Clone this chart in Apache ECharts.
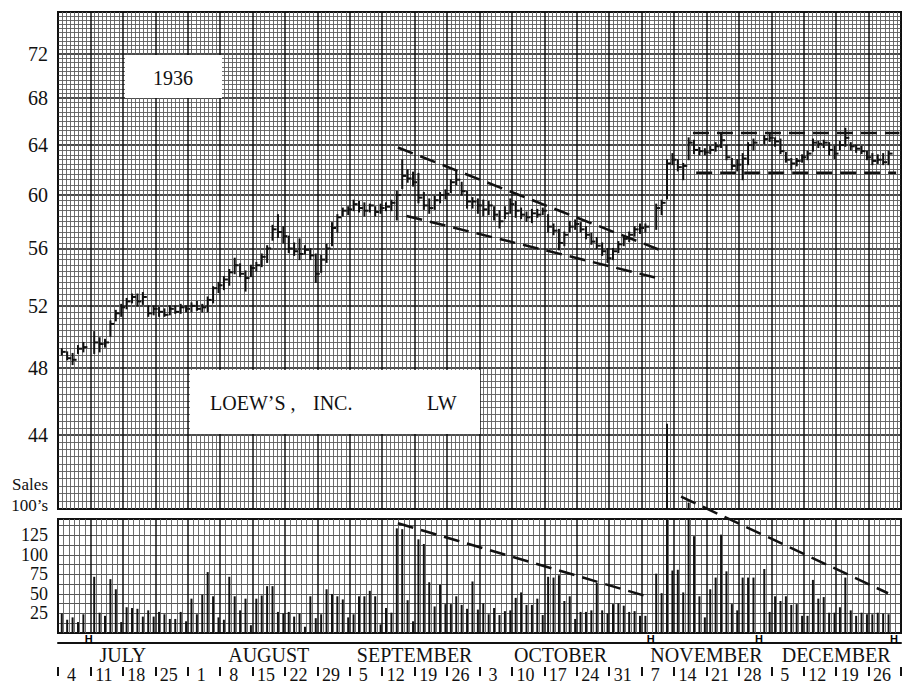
<!DOCTYPE html>
<html><head><meta charset="utf-8">
<script src="https://cdn.jsdelivr.net/npm/echarts@6/dist/echarts.min.js"></script>
<style>html,body{margin:0;padding:0;background:#fff}#c{width:903px;height:685px}</style>
</head><body><div id="c"></div>
<script>
// ---------------- data ----------------
const weekLabels = ['4','11','18','25','1','8','15','22','29','5','12','19','26','3','10','17','24','31','7','14','21','28','5','12','19','26'];
const months = ['JULY','AUGUST','SEPTEMBER','OCTOBER','NOVEMBER','DECEMBER'];
const monthWeeks = [4,5,4,5,4,4];
const priceTicks = [44,48,52,56,60,64,68,72];
const volumeTicks = [25,50,75,100,125];
const holidays = [5,109,129,154];

// daily high / low / close (null = no trading shown), 6 trading days per week from Mon Jun 29 1936
const high = [
49.2,49.0,48.9,49.4,49.6,null, 50.3,49.9,49.8,51.0,51.7,52.1, 52.5,52.8,52.8,52.9,52.0,52.0,
51.9,51.8,52.0,52.0,52.1,52.0, 52.2,52.3,52.1,52.6,53.3,53.6, 54.0,54.5,55.3,54.9,54.4,54.8,
55.0,55.6,56.2,57.7,58.5,57.6, 56.9,56.4,56.7,56.2,56.0,55.6, 55.5,56.3,57.9,58.5,59.0,59.1,
59.6,59.5,59.4,59.3,59.1,59.3, 59.4,59.6,60.3,62.8,62.0,61.8, 61.7,60.2,59.7,59.9,60.2,60.4,
61.2,61.9,61.0,60.3,59.8,59.7, 59.6,59.5,59.1,58.8,59.1,59.7, 59.5,59.0,58.7,58.9,58.9,59.0,
58.5,57.8,57.4,57.2,58.0,58.1, 57.9,57.6,57.1,56.8,56.4,56.0, 56.0,56.5,56.9,57.2,57.6,57.8,
57.8,null,59.3,59.6,62.8,63.3, 62.8,62.5,64.6,64.4,63.8,63.7, 63.9,64.2,65.0,64.0,62.9,62.8,
63.3,64.2,64.5,null,64.8,64.9, 64.6,64.5,63.4,62.9,62.9,63.2, 63.5,64.5,64.3,64.4,64.2,63.9,
64.3,65.4,64.2,64.0,63.9,63.5, 63.3,63.2,63.3,63.5,null,null];
const low = [
48.8,48.5,48.2,48.9,49.0,null, 48.9,49.0,49.3,50.0,51.0,51.3, 51.8,52.2,52.0,52.1,51.3,51.4,
51.3,51.3,51.4,51.5,51.5,51.6, 51.6,51.7,51.6,51.6,52.2,52.9, 53.1,53.4,54.2,54.0,53.0,54.0,
54.4,54.7,55.0,56.6,56.8,56.4, 55.7,55.5,55.2,55.6,55.2,53.6, 54.3,55.0,56.2,57.2,58.4,58.5,
58.8,58.7,58.4,58.7,58.4,58.6, 58.8,58.8,58.1,60.5,61.0,60.7, 59.4,58.9,58.6,58.9,59.4,59.7,
60.2,60.8,60.0,59.0,59.0,58.6, 58.4,58.5,58.1,57.5,58.2,58.6, 58.3,58.2,58.0,57.9,58.3,58.5,
57.2,57.0,55.9,56.2,57.2,57.4, 57.2,56.7,56.3,56.0,55.5,55.0, 55.2,55.7,56.2,56.5,56.9,57.1,
57.2,null,57.4,58.5,59.7,62.4, 61.9,61.2,62.8,63.3,63.2,63.2, 63.3,63.5,63.8,62.8,62.0,61.9,
61.2,62.4,63.6,null,64.1,64.3, 63.9,63.3,62.6,62.0,62.3,62.6, 62.8,63.5,63.8,63.8,63.2,62.9,
63.6,63.9,63.6,63.4,63.3,62.8, 62.4,62.5,62.4,62.4,null,null];
const close = [
49.0,48.6,48.5,49.2,49.3,null, 49.6,49.5,49.6,50.8,51.5,51.9, 52.3,52.6,52.3,52.6,51.5,51.8,
51.6,51.4,51.8,51.6,51.9,51.8, 52.0,51.8,51.9,52.4,53.2,53.4, 53.8,54.3,54.8,54.2,53.9,54.6,
54.8,55.4,56.0,57.4,57.2,56.9, 56.0,55.8,55.6,55.9,55.5,54.2, 55.2,56.0,57.5,58.3,58.8,58.9,
59.3,59.0,58.8,59.2,58.7,59.0, 59.1,59.4,60.0,61.5,61.3,61.0, 59.8,59.2,59.0,59.6,60.0,60.1,
61.0,61.2,60.3,59.5,59.5,59.2, 58.9,59.2,58.5,58.0,58.6,59.3, 58.8,58.5,58.3,58.6,58.5,58.8,
57.6,57.3,56.4,57.0,57.6,57.8, 57.4,57.0,56.5,56.2,55.8,55.3, 55.8,56.3,56.7,57.0,57.4,57.5,
57.6,null,59.0,59.4,62.5,62.8, 62.2,62.3,64.2,63.6,63.5,63.4, 63.6,63.9,64.4,63.0,62.3,62.4,
62.9,64.0,64.2,null,64.5,64.6, 64.3,63.5,62.8,62.5,62.7,63.0, 63.3,64.2,64.1,64.2,63.6,63.3,
64.0,64.6,63.9,63.7,63.5,63.0, 62.7,62.8,62.6,63.3,null,null];
// sales in hundreds of shares
const volume = [
25,17,20,14,24,null, 72,26,22,69,56,14, 33,32,31,21,29,21,
27,24,18,18,27,15, 44,24,49,78,47,20, 17,72,47,29,44,10,
44,48,60,60,27,25, 27,21,25,8,47,19, 24,56,50,47,43,20,
24,47,47,54,47,11, 32,26,134,133,42,15, 120,114,65,34,62,37,
37,47,36,31,66,30, 38,24,32,23,28,29, 45,52,36,36,44,23,
72,71,74,41,47,18, 27,27,29,64,29,25, 37,38,35,27,28,22,
22,null,76,51,268,80, 81,52,167,124,47,20, 56,71,126,79,37,29,
71,71,71,null,82,27, 47,41,47,36,37,22, 22,68,44,46,26,26,
33,71,29,22,26,24, 24,26,25,24,null,null];

// drawn trend lines: [[dayPos, value],[dayPos, value]]
const priceTrendLines = [
  [[62.9,63.8],[111.3,55.9]],
  [[64.5,58.4],[112.0,53.8]],
  [[117.5,65.0],[155.7,65.0]],
  [[118.1,61.75],[155.1,61.75]]
];
const volumeTrendLines = [
  [[62.9,140.6],[109.2,46.5]],
  [[115.3,174.7],[153.6,50.9]]
];

// ---------------- layout / styles ----------------
const FONT = '"Liberation Serif", "DejaVu Serif", serif';
const INK = '#111';
const DAY_POS = 0.7;          // where a day's mark sits inside its slot
const G_LEFT = 58, G_RIGHT = 2;
const P_TOP = 12, P_H = 497;   // price panel
const V_TOP = 519, V_H = 114;  // volume panel
const DAYS = 156;

const hlcData = [];
high.forEach((h, d) => { if (h != null) hlcData.push([d + DAY_POS, h, low[d], close[d]]); });
const volData = [];
volume.forEach((v, d) => { if (v != null) volData.push([d + DAY_POS, v]); });
const holData = holidays.map(d => [d + DAY_POS, 0]);

const fineY = [];
for (let k = 0; k <= 90; k++) {
  const v = +(40 + 0.4 * k).toFixed(1);
  if (Math.abs(v / 4 - Math.round(v / 4)) > 1e-6) fineY.push(v);
}
const volLines = [];
for (let v = 12.5; v < 146; v += 12.5) volLines.push(v);

const monthCenters = [];
let acc = 0;
monthWeeks.forEach(w => { monthCenters.push((acc + w / 2) * 6); acc += w; });
const weekCenters = weekLabels.map((_, k) => k * 6 + 2.5);

const fineLine = { color: '#5c5c5c', width: 0.9 };
const boldLine = { color: '#111', width: 1.5 };

function dayAxis(gridIndex, rulings) {
  return {
    gridIndex, type: 'value', min: 0, max: DAYS, interval: 6,
    axisLine: { show: false }, axisTick: { show: false }, axisLabel: { show: false },
    splitLine: { show: true, lineStyle: boldLine },
    minorTick: { show: false, splitNumber: rulings },
    minorSplitLine: { show: true, lineStyle: fineLine }
  };
}

const dashed = { type: [16, 8], width: 2.5, color: INK };

const option = {
  animation: false,
  backgroundColor: '#fff',
  grid: [
    { left: G_LEFT, right: G_RIGHT, top: P_TOP, height: P_H, show: true, borderColor: INK, borderWidth: 2, outerBoundsMode: 'none', containLabel: false },
    { left: G_LEFT, right: G_RIGHT, top: V_TOP, height: V_H, show: true, borderColor: INK, borderWidth: 2, outerBoundsMode: 'none', containLabel: false }
  ],
  xAxis: [
    dayAxis(0, 8),
    dayAxis(1, 6),
    { // month row
      gridIndex: 1, type: 'value', min: 0, max: DAYS, position: 'bottom', offset: 10,
      axisLine: { show: true, onZero: false, lineStyle: { color: INK, width: 2 } },
      axisTick: { show: false }, splitLine: { show: false },
      axisLabel: {
        customValues: monthCenters, formatter: v => months[monthCenters.indexOf(v)] || '',
        margin: 12, verticalAlign: 'middle', fontSize: 20, lineHeight: 18, fontFamily: FONT, color: INK
      }
    },
    { // week row
      gridIndex: 1, type: 'value', min: 0, max: DAYS, interval: 6, position: 'bottom', offset: 34,
      axisLine: { show: false, onZero: false },
      axisTick: { show: true, length: 9, lineStyle: { color: INK, width: 2 } },
      splitLine: { show: false },
      axisLabel: {
        customValues: weekCenters, formatter: v => weekLabels[weekCenters.indexOf(v)] || '',
        margin: 8, verticalAlign: 'middle', fontSize: 18, lineHeight: 18, fontFamily: FONT, color: INK
      }
    }
  ],
  yAxis: [
    { // fine price rulings
      gridIndex: 0, type: 'log', min: 40, max: 76,
      axisLine: { show: false }, axisLabel: { show: false },
      axisTick: { show: false, customValues: fineY },
      splitLine: { show: true, lineStyle: fineLine }
    },
    { // main price axis
      gridIndex: 0, type: 'log', min: 40, max: 76, position: 'left',
      axisLine: { show: false },
      axisTick: { show: false, customValues: priceTicks },
      axisLabel: { customValues: priceTicks, margin: 10, fontSize: 20, fontFamily: FONT, color: INK },
      splitLine: { show: true, lineStyle: boldLine }
    },
    { // volume axis
      gridIndex: 1, type: 'value', min: 0, max: 146, position: 'left',
      name: 'Sales\n100\u2019s', nameLocation: 'end', nameGap: 3,
      nameTextStyle: { fontSize: 17, fontFamily: FONT, color: INK, align: 'right', lineHeight: 21, padding: [0, 10, 0, 0] },
      axisLine: { show: false },
      axisTick: { show: false, customValues: volLines },
      axisLabel: { customValues: volumeTicks, margin: 10, fontSize: 18, fontFamily: FONT, color: INK },
      splitLine: { show: true, lineStyle: { color: '#444', width: 0.9 } }
    }
  ],
  series: [
    {
      type: 'custom', name: 'price', xAxisIndex: 0, yAxisIndex: 1, silent: true, z: 5,
      data: hlcData, encode: { x: 0, y: [1, 2, 3] },
      renderItem: (params, api) => {
        const x = api.value(0);
        const pH = api.coord([x, api.value(1)]);
        const pL = api.coord([x, api.value(2)]);
        const pC = api.coord([x, api.value(3)]);
        return {
          type: 'group', children: [
            { type: 'line', shape: { x1: pH[0], y1: pH[1] - 0.5, x2: pL[0], y2: pL[1] + 0.5 }, style: { stroke: INK, lineWidth: 2 } },
            { type: 'line', shape: { x1: pC[0], y1: pC[1], x2: pC[0] + 4, y2: pC[1] }, style: { stroke: INK, lineWidth: 2 } }
          ]
        };
      }
    },
    ...priceTrendLines.map(seg => ({
      type: 'line', xAxisIndex: 0, yAxisIndex: 1, data: seg, symbol: 'none', silent: true, z: 20,
      lineStyle: dashed
    })),
    {
      type: 'bar', name: 'sales', xAxisIndex: 1, yAxisIndex: 2, data: volData, barWidth: 2, clip: false, silent: true, z: 3,
      itemStyle: { color: INK }
    },
    ...volumeTrendLines.map(seg => ({
      type: 'line', xAxisIndex: 1, yAxisIndex: 2, data: seg, symbol: 'none', silent: true, clip: false, z: 20,
      lineStyle: dashed
    })),
    {
      type: 'custom', name: 'holidays', xAxisIndex: 1, yAxisIndex: 2, silent: true, z: 6,
      data: holData,
      renderItem: (params, api) => {
        const p = api.coord([api.value(0), 0]);
        return { type: 'text', x: p[0], y: p[1] + 0.5,
          style: { text: 'H', font: 'bold 11px "Liberation Sans", sans-serif', lineHeight: 10, fill: '#000', align: 'center', verticalAlign: 'top' } };
      }
    }
  ],
  graphic: [
    // white gap between the two panels (hides bars crossing it)
    { type: 'rect', z: 10, silent: true, shape: { x: G_LEFT - 1, y: P_TOP + P_H + 1, width: 903 - G_LEFT - G_RIGHT + 2, height: V_TOP - P_TOP - P_H - 2 }, style: { fill: '#fff' } },
    { type: 'rect', z: 10, silent: true, shape: { x: 125, y: 55, width: 97, height: 43 }, style: { fill: '#fff' } },
    { type: 'text', z: 11, silent: true, x: 173, y: 78, style: { text: '1936', font: '20px ' + FONT, fill: INK, align: 'center', verticalAlign: 'middle' } },
    { type: 'rect', z: 10, silent: true, shape: { x: 190, y: 370, width: 290, height: 64 }, style: { fill: '#fff' } },
    { type: 'text', z: 11, silent: true, x: 210, y: 403, style: { text: 'LOEW\u2019S ,', font: '20px ' + FONT, fill: INK, align: 'left', verticalAlign: 'middle' } },
    { type: 'text', z: 11, silent: true, x: 313, y: 403, style: { text: 'INC.', font: '20px ' + FONT, fill: INK, align: 'left', verticalAlign: 'middle' } },
    { type: 'text', z: 11, silent: true, x: 427, y: 403, style: { text: 'LW', font: '20px ' + FONT, fill: INK, align: 'left', verticalAlign: 'middle' } }
  ]
};

const chart = echarts.init(document.getElementById('c'), null, { renderer: 'svg', width: 903, height: 685 });
chart.setOption(option);
</script>
</body></html>
